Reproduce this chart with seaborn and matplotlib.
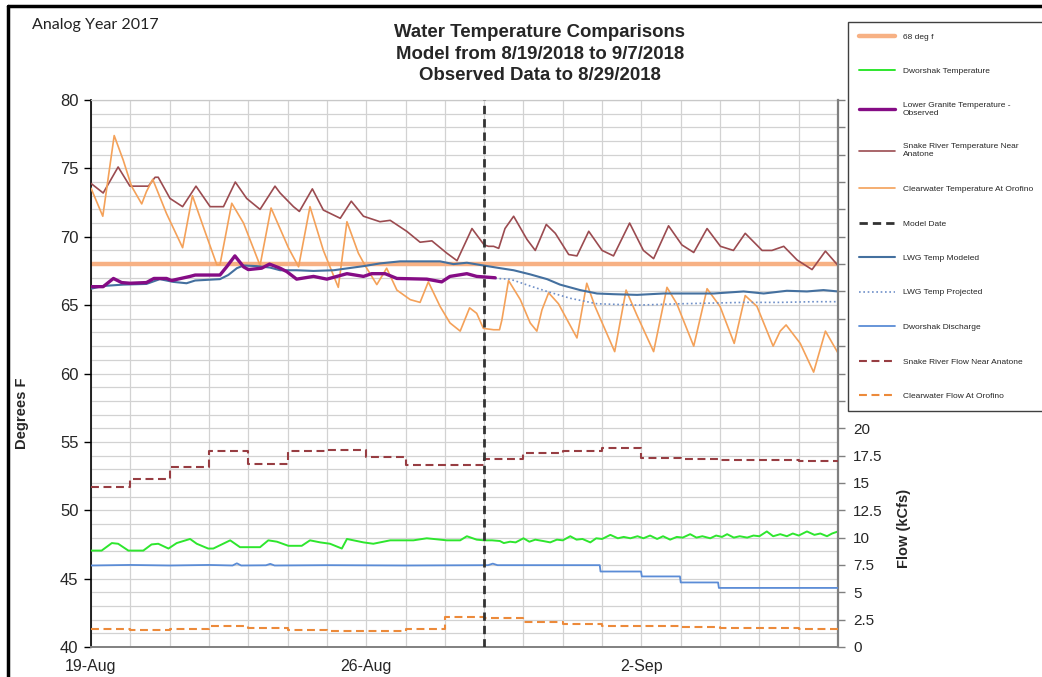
import numpy as np
import pandas as pd
import matplotlib
matplotlib.use("Agg")
import matplotlib.pyplot as plt
from matplotlib.lines import Line2D
import seaborn as sns

# ---------------- data (days since 19-Aug 00:00) ----------------
x_tick_days = [0, 7, 14]
x_tick_labels = ["19-Aug", "26-Aug", "2-Sep"]
model_day = 10
threshold_f = 68

snake_t_days = [0, 0.31, 0.69, 0.99, 1.46, 1.63, 1.71, 2.01, 2.33, 2.67, 3.03, 3.37, 3.67, 3.96, 4.30,
                4.68, 4.81, 5.15, 5.30, 5.63, 5.91, 6.34, 6.62, 6.93, 7.35, 7.61, 8.03, 8.37, 8.67, 9.05,
                9.31, 9.69, 10.0, 10.11, 10.24, 10.37, 10.53, 10.75, 11.09, 11.30, 11.58, 11.81, 12.15,
                12.36, 12.66, 13.00, 13.29, 13.70, 14.05, 14.31, 14.69, 15.03, 15.33, 15.67, 16.01, 16.34,
                16.64, 17.07, 17.32, 17.62, 17.96, 18.34, 18.68, 19.0]
snake_t = [73.9, 73.2, 75.1, 73.7, 73.7, 74.35, 74.35, 72.8, 72.2, 73.7, 72.2, 72.2, 74.0, 72.8, 72.0,
           73.7, 73.2, 72.2, 71.85, 73.5, 71.95, 71.35, 72.6, 71.5, 71.1, 71.2, 70.4, 69.6, 69.7, 68.8,
           68.25, 70.6, 69.4, 69.3, 69.3, 69.15, 70.6, 71.5, 69.8, 69.0, 70.9, 70.25, 68.7,
           68.6, 70.4, 69.0, 68.6, 71.0, 69.0, 68.4, 70.8, 69.4, 68.85, 70.6, 69.3, 69.0,
           70.25, 69.0, 69.0, 69.3, 68.3, 67.6, 68.95, 67.9]

cw_t_days = [0, 0.30, 0.59, 0.82, 1.03, 1.29, 1.41, 1.57, 1.92, 2.33, 2.58, 2.86, 3.20, 3.28, 3.58, 3.88,
             4.30, 4.58, 5.02, 5.28, 5.57, 5.91, 6.29, 6.51, 6.80, 6.97, 7.27, 7.52, 7.78, 8.12, 8.37,
             8.58, 8.88, 9.13, 9.39, 9.63, 9.81, 9.98, 10.24, 10.39, 10.45, 10.62, 10.92, 11.17, 11.34,
             11.47, 11.64, 11.89, 12.36, 12.61, 12.82, 13.32, 13.61, 13.88, 14.31, 14.65, 14.90, 15.33,
             15.67, 16.00, 16.36, 16.64, 16.94, 17.35, 17.53, 17.68, 18.04, 18.38, 18.68, 19.0]
cw_t = [73.55, 71.5, 77.4, 75.6, 73.7, 72.4, 73.3, 74.2, 71.7, 69.2, 73.0, 70.7, 67.95, 67.95, 72.45, 71.0,
        67.9, 72.1, 69.2, 67.8, 72.2, 69.0, 66.3, 71.1, 68.8, 67.9, 66.5, 67.7, 66.1, 65.4, 65.2,
        66.7, 64.9, 63.7, 63.1, 64.8, 64.4, 63.3, 63.2, 63.2, 63.9, 66.8, 65.4, 63.7, 63.1,
        64.65, 65.9, 65.1, 62.6, 66.6, 64.9, 61.6, 66.1, 64.3, 61.6, 66.3, 65.1, 62.0,
        66.2, 64.9, 62.2, 65.7, 64.9, 62.0, 63.1, 63.55, 62.2, 60.1, 63.1, 61.5]

lgr_days = [0, 0.31, 0.57, 0.78, 0.99, 1.41, 1.60, 1.92, 2.05, 2.52, 2.65, 3.28, 3.45, 3.66, 3.88, 4.00,
            4.34, 4.54, 4.81, 4.98, 5.23, 5.66, 6.0, 6.51, 6.93, 7.14, 7.48, 7.78, 8.54, 8.92, 9.13,
            9.56, 9.81, 10.28]
lgr_obs = [66.35, 66.35, 66.95, 66.65, 66.6, 66.65, 66.95, 66.95, 66.8, 67.1, 67.2, 67.2, 67.8, 68.6,
           67.8, 67.6, 67.7, 68.0, 67.7, 67.45, 66.9, 67.1, 66.9, 67.3, 67.1, 67.3, 67.3, 66.95, 66.9,
           66.7, 67.1, 67.3, 67.1, 67.0]

lwg_mod_days = [0, 0.31, 0.82, 1.41, 1.75, 2.09, 2.43, 2.65, 3.28, 3.49, 3.71, 3.88, 4.22, 4.55, 4.81,
                5.23, 5.66, 6.17, 6.93, 7.35, 7.86, 8.46, 8.88, 9.22, 9.56, 9.98, 10.41, 10.75, 11.17,
                11.60, 11.93, 12.44, 12.87, 13.29, 13.89, 14.56, 15.84, 16.60, 17.11, 17.70, 18.21,
                18.63, 19.0]
lwg_mod = [66.2, 66.4, 66.5, 66.55, 66.9, 66.7, 66.6, 66.8, 66.9, 67.2, 67.7, 67.9, 67.85, 67.75, 67.55,
           67.55, 67.5, 67.55, 67.85, 68.05, 68.2, 68.2, 68.2, 68.0, 68.1, 67.9, 67.7, 67.55, 67.25,
           66.9, 66.5, 66.1, 65.85, 65.8, 65.75, 65.85, 65.85, 66.0, 65.85, 66.05, 66.0, 66.1, 66.0]

lwg_proj_days = [10.28, 10.66, 11.17, 11.60, 12.19, 12.87, 13.89, 14.99, 16.60, 17.53, 18.38, 19.0]
lwg_proj = [66.95, 66.9, 66.4, 66.0, 65.5, 65.1, 65.0, 65.1, 65.2, 65.2, 65.25, 65.25]

dw_t_days = [0, 0.27, 0.53, 0.69, 0.95, 1.33, 1.54, 1.71, 1.97, 2.18, 2.52, 2.69, 2.98, 3.11, 3.54, 3.79,
             4.30, 4.51, 4.73, 5.02, 5.36, 5.57, 5.83, 6.08, 6.38, 6.51, 6.93, 7.18, 7.61, 8.20, 8.54,
             9.05, 9.39, 9.56, 9.81, 10.0, 10.2, 10.4, 10.5, 10.66, 10.8, 11.0, 11.15, 11.3, 11.5, 11.68,
             11.85, 12.0, 12.19, 12.35, 12.5, 12.7, 12.85, 13.0, 13.21, 13.4, 13.55, 13.72, 13.9, 14.05,
             14.22, 14.4, 14.55, 14.73, 14.9, 15.05, 15.24, 15.4, 15.55, 15.75, 15.9, 16.05, 16.18,
             16.35, 16.5, 16.69, 16.85, 17.0, 17.19, 17.35, 17.53, 17.7, 17.85, 18.0, 18.21, 18.4,
             18.55, 18.72, 18.85, 19.0]
dw_temp = [47.05, 47.05, 47.6, 47.55, 47.05, 47.05, 47.5, 47.55, 47.2, 47.6, 47.9, 47.55, 47.2, 47.2,
           47.8, 47.3, 47.3, 47.8, 47.7, 47.4, 47.4, 47.8, 47.65, 47.55, 47.2, 47.9, 47.65, 47.55, 47.8,
           47.8, 47.95, 47.8, 47.8, 48.1, 47.85, 47.8, 47.8, 47.75, 47.6, 47.7, 47.65, 47.95, 47.7, 47.85,
           47.75, 47.65, 47.85, 47.8, 48.1, 47.85, 47.9, 47.65, 47.95, 47.9, 48.2, 47.95, 48.05, 47.95,
           48.1, 47.95, 48.15, 47.9, 48.1, 47.85, 48.05, 48.0, 48.25, 48.0, 48.1, 47.95, 48.15, 48.05,
           48.25, 48.0, 48.1, 48.0, 48.15, 48.1, 48.45, 48.1, 48.25, 48.1, 48.3, 48.15, 48.45, 48.2,
           48.3, 48.1, 48.3, 48.45]

dw_q_days = [0, 1.0, 2.0, 3.0, 3.6, 3.71, 3.82, 4.45, 4.56, 4.67, 6.0, 8.0, 10.1, 10.22, 10.34, 12.94,
             12.96, 13.99, 14.01, 14.98, 15.0, 15.95, 15.97, 19.0]
dw_discharge = [7.45, 7.5, 7.45, 7.5, 7.45, 7.65, 7.45, 7.47, 7.6, 7.45, 7.48, 7.45, 7.48, 7.62, 7.48,
                7.48, 6.9, 6.9, 6.45, 6.45, 5.9, 5.9, 5.4, 5.4]

flow_days = list(range(20))
snake_flow = [14.6, 15.4, 16.45, 17.9, 16.7, 17.95, 18.05, 17.4, 16.65, 16.6, 17.15, 17.75, 17.95, 18.2,
              17.3, 17.15, 17.1, 17.05, 17.0, 17.0]
cw_flow = [1.6, 1.55, 1.65, 1.9, 1.7, 1.55, 1.45, 1.43, 1.68, 2.7, 2.62, 2.3, 2.1, 1.95, 1.92, 1.83,
           1.77, 1.76, 1.68, 1.68]

# ---------------- styling ----------------
sns.set_style("white")
plt.rcParams["font.family"] = ["Liberation Sans", "DejaVu Sans"]

W, H = 1042, 677
fig = plt.figure(figsize=(W / 100, H / 100), dpi=100)
L, R, T, B = 91, 838, 100, 647
ax = fig.add_axes([L / W, 1 - B / H, (R - L) / W, (B - T) / H])
ax2 = ax.twinx()


def draw(axis, xs, ys, **kw):
    sns.lineplot(x=xs, y=ys, ax=axis, estimator=None, sort=False, legend=False, **kw)
    return axis.lines[-1]


h68 = ax.axhline(threshold_f, color="#F7B184", lw=3.2, zorder=2)
h_dwt = draw(ax, dw_t_days, dw_temp, color="#2EE62E", lw=1.4, zorder=3)
h_sn = draw(ax, snake_t_days, snake_t, color="#9B4B50", lw=1.2, zorder=3)
h_cw = draw(ax, cw_t_days, cw_t, color="#F4A159", lw=1.2, zorder=3)
h_mod = draw(ax, lwg_mod_days, lwg_mod, color="#44709F", lw=1.5, zorder=4)
h_proj = draw(ax, lwg_proj_days, lwg_proj, color="#6E8FC8", lw=1.2, linestyle=(0, (1, 1.6)), zorder=4)
h_lgr = draw(ax, lgr_days, lgr_obs, color="#850C85", lw=2.4, zorder=5)

h_q = draw(ax2, dw_q_days, dw_discharge, color="#5B8CD6", lw=1.3, zorder=3)
h_sf = draw(ax2, flow_days, snake_flow, color="#973D42", lw=1.5, linestyle=(0, (3.8, 2.2)),
            drawstyle="steps-post", zorder=3)
h_cf = draw(ax2, flow_days, cw_flow, color="#EC8A3A", lw=1.5, linestyle=(0, (3.8, 2.2)),
            drawstyle="steps-post", zorder=3)
h_md = ax2.axvline(model_day, color="#333333", lw=2.0, linestyle=(0, (3, 1.8)), zorder=6)

# axes, ticks, grid
ax.set_xlim(0, 19)
ax.set_ylim(40, 80)
ax2.set_ylim(0, 50)
ax.set_xticks(x_tick_days)
ax.set_xticklabels(x_tick_labels, fontsize=11.5)
ax.set_xticks(np.arange(0, 20, 1), minor=True)
ax.set_yticks(np.arange(40, 81, 5))
ax.set_yticklabels([str(v) for v in range(40, 81, 5)], fontsize=12)
ax.set_yticks(np.arange(40, 81, 1), minor=True)
ax.grid(True, which="both", color="#D2D2D2", lw=0.9)
ax.tick_params(axis="x", which="major", direction="out", length=5, width=1, color="#808080", pad=4)
ax.tick_params(axis="y", which="major", direction="out", length=5, width=1, color="#000000", pad=4,
               left=True)
ax.tick_params(which="minor", length=0)
ax.set_axisbelow(True)

r_ticks = np.arange(0, 50.01, 2.5)
ax2.set_yticks(r_ticks)
ax2.set_yticklabels([("%g" % v) if v <= 20 else "" for v in r_ticks], fontsize=11)
ax2.tick_params(axis="y", direction="out", length=5, width=1, color="#808080", pad=6, right=True)
ax2.grid(False)

for s in ["left", "top", "bottom"]:
    ax2.spines[s].set_visible(False)
ax2.spines["right"].set_color("#808080")
ax2.spines["right"].set_linewidth(1.6)
ax.spines["right"].set_visible(False)
ax.spines["left"].set_color("#000000")
ax.spines["left"].set_linewidth(1.2)
ax.spines["bottom"].set_color("#808080")
ax.spines["bottom"].set_linewidth(1.4)
ax.spines["top"].set_color("#C8C8C8")
ax.spines["top"].set_linewidth(0.9)

ax.set_xlabel("")
ax.set_ylabel("Degrees F", fontsize=10.5, fontweight="bold")
ax.yaxis.set_label_coords((29 - L) / (R - L), (B - 413) / (B - T))
ax2.set_xlabel("")
ax2.set_ylabel("Flow (kCfs)", fontsize=10.5, fontweight="bold")
ax2.yaxis.set_label_coords((897 - L) / (R - L), (B - 528) / (B - T))

# titles
fig.text(540 / W, 1 - 24 / H,
         "Water Temperature Comparisons\nModel from 8/19/2018 to 9/7/2018\nObserved Data to 8/29/2018",
         ha="center", va="top", fontsize=13.4, fontweight="bold", linespacing=1.36)
fig.text(32 / W, 1 - 25 / H, "Analog Year 2017", ha="left", va="center", fontsize=11.5,
         family=["Lato", "DejaVu Sans"], color="#222222")

# legend
handles = [h68, h_dwt, h_lgr, h_sn, h_cw, h_md, h_mod, h_proj, h_q, h_sf, h_cf]
labels = ["68 deg f", "Dworshak Temperature", "Lower Granite Temperature -\nObserved",
          "Snake River Temperature Near\nAnatone", "Clearwater Temperature At Orofino", "Model Date",
          "LWG Temp Modeled", "LWG Temp Projected", "Dworshak Discharge",
          "Snake River Flow Near Anatone", "Clearwater Flow At Orofino"]
leg = fig.legend(handles, labels, loc="upper left", bbox_to_anchor=(848 / W, 1 - 22 / H),
                 fontsize=6.0, frameon=True, fancybox=False, edgecolor="#404040", facecolor="white",
                 framealpha=1, labelspacing=3.2, handlelength=4.3, handletextpad=1.0,
                 borderpad=1.3, borderaxespad=0)
leg.get_frame().set_linewidth(1.0)

# page frame (top and left edges)
fig.add_artist(Line2D([8 / W, 8 / W], [0, 1 - 6 / H], color="black", lw=2.5, transform=fig.transFigure))
fig.add_artist(Line2D([8 / W, 1], [1 - 6 / H, 1 - 6 / H], color="black", lw=2.5, transform=fig.transFigure))

fig.savefig("out.png", dpi=100)
